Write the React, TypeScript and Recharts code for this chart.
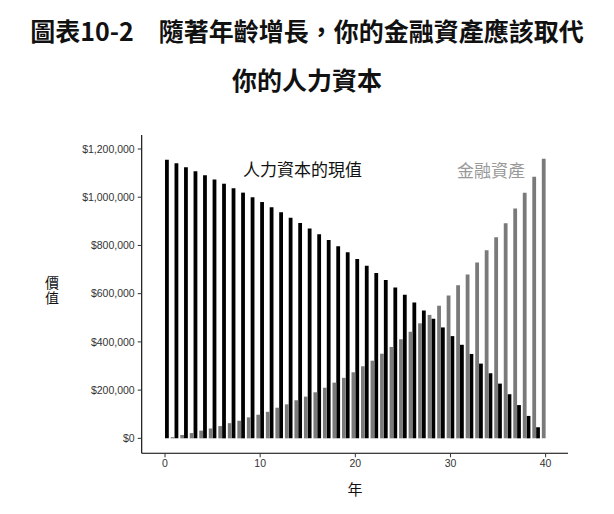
import { BarChart, Bar, XAxis, YAxis } from "recharts";

const years = [
  0, 1, 2, 3, 4, 5, 6, 7, 8, 9, 10, 11, 12, 13, 14, 15, 16, 17, 18, 19,
  20, 21, 22, 23, 24, 25, 26, 27, 28, 29, 30, 31, 32, 33, 34, 35, 36, 37, 38, 39,
];

// 人力資本的現值
const humanCapital = [
  1155000, 1141000, 1124000, 1108000, 1091000, 1073000, 1056000, 1037000, 1019000, 1000000,
  980000, 958000, 938000, 915000, 893000, 870000, 846000, 823000, 797000, 772000,
  744000, 716000, 686000, 657000, 626000, 596000, 563000, 530000, 496000, 460000,
  424000, 388000, 350000, 310000, 270000, 227000, 183000, 138000, 93000, 46000,
];

// 金融資產
const financialAssets = [
  5000, 14000, 22000, 32000, 41000, 51000, 63000, 73000, 87000, 98000,
  110000, 127000, 141000, 158000, 173000, 191000, 210000, 231000, 251000, 274000,
  299000, 322000, 351000, 379000, 411000, 442000, 477000, 512000, 550000, 592000,
  635000, 680000, 729000, 780000, 834000, 892000, 953000, 1018000, 1085000, 1159000,
];

const yTicks = [0, 200000, 400000, 600000, 800000, 1000000, 1200000];
const xTicks = [0, 10, 20, 30, 40];

const data = years.map((year, i) => ({
  mid: year + 0.5,
  human: humanCapital[i],
  financial: financialAssets[i],
}));

const cjk = '"Noto Sans CJK TC", "Noto Sans CJK SC", sans-serif';
const tickStyle = { fontSize: 10.5, fill: "#333", fontFamily: '"Liberation Sans", Arial, sans-serif' };

export default function App() {
  return (
    <div style={{ position: "absolute", left: 0, top: 0, width: 614, height: 514, background: "#fff", fontFamily: cjk }}>
      <div style={{ position: "absolute", left: 0, top: 0, width: 614, height: 60, lineHeight: "60px", textAlign: "center", fontSize: 25, fontWeight: 700, color: "#111", whiteSpace: "nowrap" }}>
        圖表10-2　隨著年齡增長，你的金融資產應該取代
      </div>
      <div style={{ position: "absolute", left: 0, top: 49, width: 614, height: 60, lineHeight: "60px", textAlign: "center", fontSize: 25, fontWeight: 700, color: "#111" }}>
        你的人力資本
      </div>

      <BarChart
        width={614}
        height={514}
        data={data}
        margin={{ top: 135, right: 46, left: 61.7, bottom: 30.7 }}
        barGap={1.9}
        style={{ position: "absolute", left: 0, top: 0 }}
      >
        <XAxis
          dataKey="mid"
          type="number"
          domain={[-2.45, 42.35]}
          ticks={xTicks}
          height={30}
          tick={tickStyle}
          tickSize={4}
          tickMargin={2}
          axisLine={{ stroke: "#000", strokeWidth: 1.1 }}
          tickLine={{ stroke: "#333" }}
        />
        <YAxis
          type="number"
          domain={[-62000, 1258000]}
          ticks={yTicks}
          width={80}
          tick={tickStyle}
          tickSize={4}
          tickMargin={3}
          tickFormatter={(v: number) => `$${v.toLocaleString("en-US")}`}
          axisLine={{ stroke: "#000", strokeWidth: 1.1 }}
          tickLine={{ stroke: "#333" }}
        />
        <Bar dataKey="human" fill="#000" barSize={3.8} isAnimationActive={false} />
        <Bar dataKey="financial" fill="#7a7a7a" barSize={3.8} isAnimationActive={false} />
      </BarChart>

      <div style={{ position: "absolute", left: 243, top: 159.8, fontSize: 17, lineHeight: "17px", color: "#111", whiteSpace: "nowrap" }}>
        人力資本的現值
      </div>
      <div style={{ position: "absolute", left: 457, top: 160.5, fontSize: 17, lineHeight: "17px", color: "#999", whiteSpace: "nowrap" }}>
        金融資產
      </div>
      <div style={{ position: "absolute", left: 45, top: 276, width: 14, fontSize: 14, lineHeight: "14px", letterSpacing: 1, writingMode: "vertical-rl", color: "#111" }}>
        價值
      </div>
      <div style={{ position: "absolute", left: 347.5, top: 480.5, fontSize: 15, lineHeight: "15px", color: "#111" }}>
        年
      </div>
    </div>
  );
}
